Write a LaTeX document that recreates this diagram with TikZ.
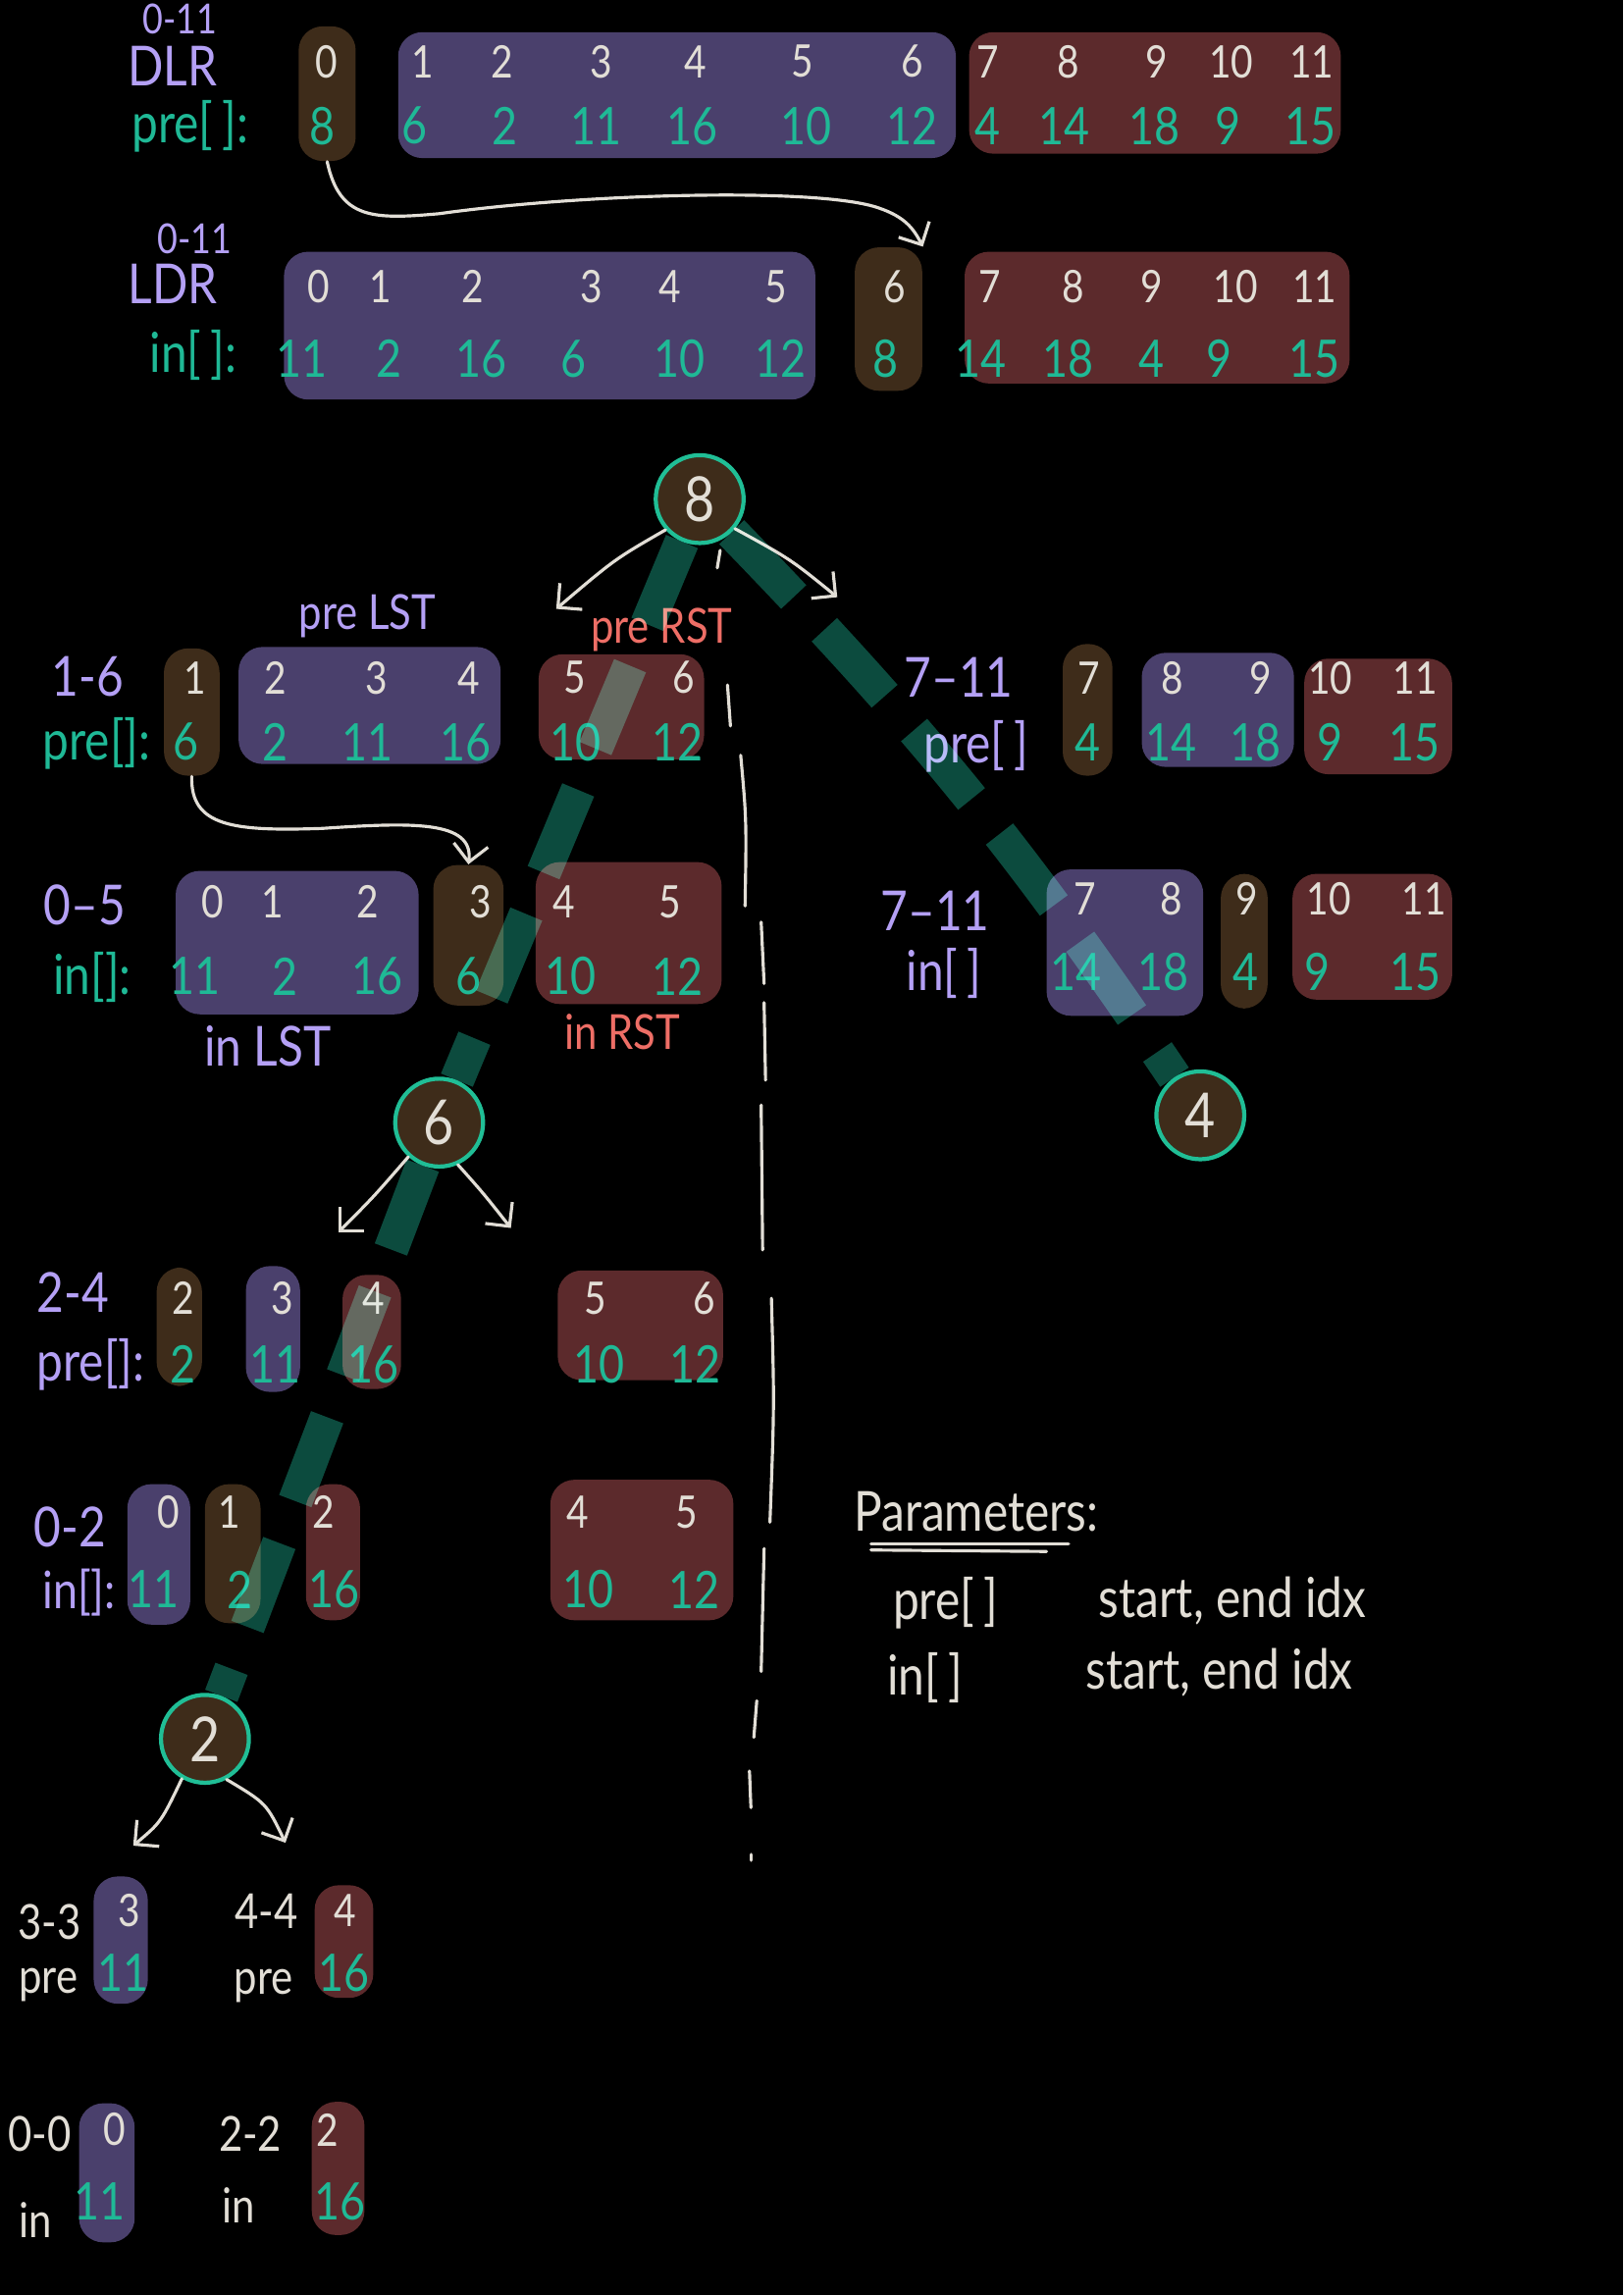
\documentclass[tikz,border=0pt]{standalone}
\usepackage{fontspec}
\setmainfont{Lato}[FakeStretch=0.85]
\usetikzlibrary{arrows.meta,fit}
\definecolor{boxp}{HTML}{4A406C}
\definecolor{boxr}{HTML}{5C2A2C}
\definecolor{boxb}{HTML}{3E2C1A}
\definecolor{wtc}{HTML}{E2DED6}
\definecolor{tlc}{HTML}{1FB996}
\definecolor{lvc}{HTML}{B4A0F5}
\definecolor{slc}{HTML}{EE6E66}
\definecolor{ndl}{HTML}{20BE96}
\definecolor{dsh}{HTML}{0C4B3E}
\newcommand\wrow[3]{\foreach \xa/\va [count=\ia] in {#3} {\node[wt] (w#1\ia) at (\xa,#2) {\va};}}
\newcommand\trow[3]{\foreach \xa/\va [count=\ia] in {#3} {\node[tl] (t#1\ia) at (\xa,#2) {\va};}}
\begin{document}
\begin{tikzpicture}[x=0.014915cm,y=-0.014915cm,
 wt/.style={font=\fontsize{13}{13}\selectfont, inner sep=0pt, text=wtc},
 tl/.style={font=\fontsize{15}{15}\selectfont, inner sep=0pt, text=tlc},
 lab/.style={font=\fontsize{16}{16}\selectfont, inner sep=0pt},
 lv/.style={lab, text=lvc},
 lt/.style={lab, text=tlc},
 sl/.style={lab, text=slc},
 wl/.style={lab, text=wtc},
 ws/.style={font=\fontsize{14}{14}\selectfont, inner sep=0pt, text=wtc},
 sm/.style={font=\fontsize{12}{12}\selectfont, inner sep=0pt, text=lvc},
 abox/.style={inner sep=0pt, rounded corners=7pt},
 pbox/.style={abox, fill=boxp},
 rbox/.style={abox, fill=boxr},
 bbox/.style={abox, fill=boxb},
 tnode/.style={circle, draw=ndl, line width=1.2pt, fill=boxb, minimum size=0.895cm, inner sep=0pt, text=wtc, font=\fontsize{18}{18}\selectfont},
 warr/.style={draw=wtc, line width=0.9pt, line cap=round, -{Straight Barb[length=5pt,width=10pt]}},
 wline/.style={draw=wtc, line width=0.9pt, line cap=round},
 tdash/.style={draw=dsh, line width=10pt, dash pattern=on 26pt off 13pt}]
\fill[black] (0,0) rectangle (1109,1568);
\useasboundingbox (0,0) rectangle (1109,1568);
\clip (0,0) rectangle (1109,1568);
% boxes
\node[bbox,fit={(204,18) (243,110)}] (brn0) {};
\node[pbox,fit={(272,22) (653,108)}] (pur0) {};
\node[rbox,fit={(662,22) (916,105)}] (red0) {};
\node[pbox,fit={(194,172) (557,273)}] (pur1) {};
\node[bbox,fit={(584,169) (630,267)}] (brn1) {};
\node[rbox,fit={(659,172) (922,262)}] (red1) {};
\node[bbox,fit={(112,443) (150,530)}] (brn2) {};
\node[pbox,fit={(163,442) (342,522)}] (pur2) {};
\node[rbox,fit={(368,447) (481,519)}] (red2) {};
\node[pbox,fit={(120,595) (286,693)}] (pur3) {};
\node[bbox,fit={(296,591) (344,687)}] (brn3) {};
\node[rbox,fit={(366,589) (493,686)}] (red3) {};
\node[bbox,fit={(726,440) (760,530)}] (brn4) {};
\node[pbox,fit={(780,446) (884,524)}] (pur4) {};
\node[rbox,fit={(891,450) (992,529)}] (red4) {};
\node[pbox,fit={(715,594) (822,694)}] (pur5) {};
\node[bbox,fit={(834,597) (866,689)}] (brn5) {};
\node[rbox,fit={(883,597) (992,683)}] (red5) {};
\node[bbox,fit={(107,866) (138,947)}] (brn6) {};
\node[pbox,fit={(168,865) (205,951)}] (pur6) {};
\node[rbox,fit={(234,871) (274,949)}] (red6) {};
\node[rbox,fit={(381,868) (494,943)}] (red7) {};
\node[pbox,fit={(87,1014) (130,1110)}] (pur7) {};
\node[bbox,fit={(140,1014) (178,1109)}] (brn7) {};
\node[rbox,fit={(209,1014) (246,1107)}] (red8) {};
\node[rbox,fit={(376,1011) (501,1107)}] (red9) {};
\node[pbox,fit={(64,1282) (101,1369)}] (pur8) {};
\node[rbox,fit={(215,1288) (255,1365)}] (red10) {};
\node[pbox,fit={(54,1437) (92,1532)}] (pur9) {};
\node[rbox,fit={(213,1436) (249,1527)}] (red11) {};
% numbers
\wrow{a}{42}{223/0,289/1,343/2,411/3,475/4,548/5,623/6,675/7,730/8,790/9,841/10,896/11}
\trow{b}{86}{220/8,283/6,345/2,407/11,473/16,551/10,623/12,675/4,727/14,789/18,839/9,895/15}
\wrow{c}{196}{218/0,260/1,323/2,404/3,458/4,530/5,611/6,676/7,733/8,787/9,844/10,898/11}
\trow{d}{245}{206/11,266/2,329/16,392/6,464/10,533/12,605/8,670/14,730/18,787/4,833/9,898/15}
\wrow{e}{463}{133/1,188/2,257/3,320/4,393/5,467/6}
\trow{f}{507}{127/6,188/2,251/11,318/16,393/10,463/12}
\wrow{g}{616}{145/0,186/1,251/2,328/3,385/4,458/5}
\trow{h}{667}{133/11,195/2,258/16,320/6,390/10,463/12}
\wrow{i}{463}{744/7,801/8,861/9,909/10,967/11}
\trow{j}{507}{743/4,800/14,858/18,909/9,966/15}
\wrow{k}{614}{741/7,800/8,852/9,908/10,973/11}
\trow{l}{664}{735/14,795/18,851/4,900/9,967/15}
\wrow{m}{887}{125/2,193/3,255/4,407/5,481/6}
\trow{n}{932}{125/2,188/11,255/16,409/10,475/12}
\wrow{o}{1033}{115/0,157/1,221/2,395/4,469/5}
\trow{q}{1086}{105/11,164/2,228/16,402/10,474/12}
\wrow{s}{1305}{88/3,236/4}
\trow{t}{1348}{84/11,235/16}
\wrow{u}{1455}{78/0,224/2}
\trow{v}{1504}{68/11,232/16}
% labels
\node[sm] (top011) at (123,13) {0-11};
\node[lv] (dlr) at (118,45) {DLR};
\node[lt] (prelab0) at (130,86) {pre[\,]:};
\node[sm] (mid011) at (133,163) {0-11};
\node[lv] (ldr) at (118,194) {LDR};
\node[lt] (inlab0) at (132,243) {in[\,]:};
\node[lv,font=\fontsize{14}{14}\selectfont] (plst) at (251,421) {pre LST};
\node[sl,font=\fontsize{14}{14}\selectfont] (prst) at (452,430) {pre RST};
\node[lv] (r16) at (60,462) {1-6};
\node[lt] (prel1) at (66,508) {pre[]:};
\node[lv] (r05) at (58,618) {0–5};
\node[lt] (inl1) at (63,668) {in[]:};
\node[lv] (inlst) at (183,715) {in LST};
\node[sl,font=\fontsize{14}{14}\selectfont] (inrst) at (425,705) {in RST};
\node[lv] (r711a) at (655,463) {7–11};
\node[lv] (prel2) at (667,510) {pre[\,]};
\node[lv] (r711b) at (639,622) {7–11};
\node[lv] (inl2) at (645,665) {in[\,]};
\node[lv] (r24) at (50,883) {2-4};
\node[lv] (prel3) at (62,932) {pre[]:};
\node[lv] (r02) at (48,1043) {0-2};
\node[lv,font=\fontsize{15}{15}\selectfont] (inl3) at (54,1088) {in[]:};
\node[ws] (r33) at (34,1313) {3-3};
\node[ws] (pre4a) at (33,1356) {pre};
\node[ws] (r44) at (182,1306) {4-4};
\node[ws] (pre4b) at (180,1357) {pre};
\node[ws] (r00) at (27,1458) {0-0};
\node[ws] (in4a) at (24,1517) {in};
\node[ws] (r22) at (171,1458) {2-2};
\node[ws] (in4b) at (163,1507) {in};
% parameters
\node[wl] (param) at (667,1033) {Parameters:};
\draw[wline] (595,1055) -- (730,1055);
\draw[wline] (595,1059) -- (715,1060);
\node[wl] (ppre) at (646,1095) {pre[\,]};
\node[wl] (pst1) at (842,1094) {start, end idx};
\node[wl] (pin) at (632,1146) {in[\,]};
\node[wl] (pst2) at (833,1143) {start, end idx};
% tree nodes
\node[tnode] (root) at (478,341) {8};
\node[tnode] (n6) at (300,767) {6};
\node[tnode] (n4) at (820,762) {4};
\node[tnode] (n2) at (140,1188) {2};
% curved arrows between arrays
\draw[warr] (brn0.south) .. controls (232,150) and (255,150) .. (300,146) .. controls (400,132) and (560,128) .. (600,142) .. controls (618,148) and (624,156) .. (brn1.north east);
\draw[warr] (brn2.south) .. controls (130,565) and (160,568) .. (220,566) .. controls (280,562) and (324,560) .. (brn3.north);
% tree arrows
\coordinate (rl) at (380,416);
\coordinate (rr) at (572,408);
\coordinate (sl6) at (231,842);
\coordinate (sr6) at (349,839);
\coordinate (sl2) at (91,1261);
\coordinate (sr2) at (195,1259);
\draw[warr] (root.222) .. controls (420,382) .. (rl);
\draw[warr] (root.320) .. controls (540,382) .. (rr);
\draw[warr] (n6.228) .. controls (255,818) .. (sl6);
\draw[warr] (n6.294) .. controls (330,815) .. (sr6);
\draw[warr] (n2.240) .. controls (110,1245) .. (sl2);
\draw[warr] (n2.298) .. controls (182,1232) .. (sr2);
% hand-drawn vertical divider
\draw[wline] (492,376) -- (490,388);
\draw[wline] (497,468) -- (499,496);
\draw[wline] (506,516) .. controls (510,560) .. (509,619);
\draw[wline] (520,630) -- (522,672);
\draw[wline] (522,685) -- (523,738);
\draw[wline] (520,755) -- (521,854);
\draw[wline] (527,887) .. controls (529,960) .. (526,1040);
\draw[wline] (522,1058) -- (520,1142);
\draw[wline] (517,1162) -- (515,1187);
\draw[wline] (512,1210) -- (513,1235);
\draw[wline] (513,1267) -- (513,1271);
% highlighted path
\begin{scope}[blend mode=screen]
\draw[tdash] (root) -- (n6);
\draw[tdash] (root) to[bend left=5] (n4);
\draw[tdash] (n6) -- (n2);
\end{scope}
\end{tikzpicture}
\end{document}
